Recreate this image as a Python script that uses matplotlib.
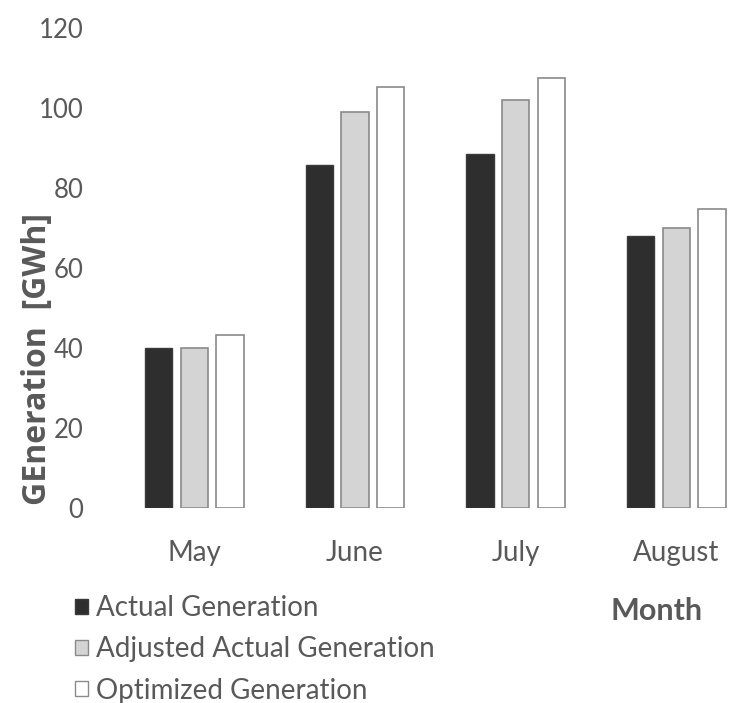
import matplotlib
matplotlib.use("Agg")
import matplotlib.pyplot as plt
import numpy as np
from matplotlib.patches import Patch

# chart data
months = ["May", "June", "July", "August"]
actual = [40, 85.7, 88.4, 67.9]
adjusted = [40, 98.9, 102.1, 70.1]
optimized = [43.2, 105.2, 107.5, 74.7]
yticks = [0, 20, 40, 60, 80, 100, 120]

plt.rcParams['font.family'] = ['Lato', 'DejaVu Sans']
txt = "#595959"

fig = plt.figure(figsize=(7.31, 7.03), dpi=100)
ax = fig.add_axes([114/731, 195/703, 617/731, 480/703])

x = np.arange(len(months))
w = 0.17
step = 0.222
ax.bar(x - step, actual, w, color="#2e2e2e", edgecolor="#3a3a3a", linewidth=1)
ax.bar(x, adjusted, w, color="#d4d4d4", edgecolor="#8a8a8a", linewidth=1.2)
ax.bar(x + step, optimized, w, color="white", edgecolor="#8a8a8a", linewidth=1.2)

ax.set_xlim(-0.5, 3.34)
ax.set_ylim(0, 120)
ax.set_yticks(yticks)
ax.set_xticks(x)
ax.set_xticklabels(months)
for s in ax.spines.values():
    s.set_visible(False)
ax.tick_params(length=0, colors=txt)
ax.tick_params(axis="x", pad=23, labelsize=20)
ax.tick_params(axis="y", pad=22, labelsize=18.5)

fig.text(38/731, 1 - 359/703, "GEneration  [GWh]", rotation=90, ha="center", va="center",
         fontsize=23, fontweight="bold", color=txt, family="Open Sans")
fig.text(657/731, 1 - 611/703, "Month", ha="center", va="center",
         fontsize=22, fontweight="bold", color=txt)

handles = [Patch(facecolor="#2e2e2e", edgecolor="#3a3a3a"),
           Patch(facecolor="#d4d4d4", edgecolor="#8a8a8a"),
           Patch(facecolor="white", edgecolor="#8a8a8a")]
labels = ["Actual Generation", "Adjusted Actual Generation", "Optimized Generation"]
leg = fig.legend(handles, labels, loc="upper left", bbox_to_anchor=(50/731, 1 - 570/703),
                 frameon=False, fontsize=20, handlelength=0.45, handleheight=0.45,
                 handletextpad=0.3, labelspacing=0.55)
for t in leg.get_texts():
    t.set_color(txt)

fig.savefig("out.png", dpi=100)
